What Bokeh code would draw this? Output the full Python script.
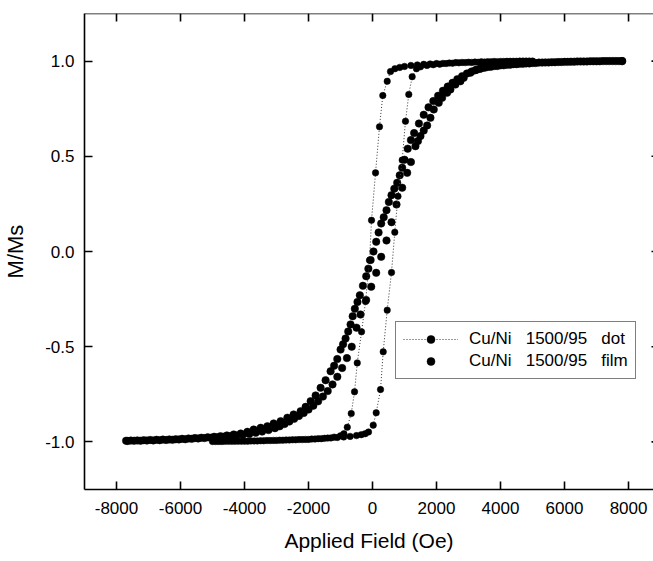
from bokeh.plotting import figure
from bokeh.models import (Range1d, FixedTicker, Legend, LegendItem, Span,
                          NumeralTickFormatter, ColumnDataSource)
from bokeh.embed import file_html
from bokeh.resources import INLINE

# ---------------- data ----------------
# Cu/Ni 1500/95 dot : descending branch (+H -> -H)
dot_desc_h = [5000, 4800, 4600, 4400, 4200, 4000, 3800, 3600, 3400, 3200,
              3000, 2800, 2600, 2400, 2200, 2000, 1800, 1600, 1400, 1200,
              1000, 850, 700, 562, 459, 321, 218, 94, -31, -94,
              -218, -343, -477, -562, -665, -789, -895, -1000, -1200, -1400,
              -1600, -1800, -2000, -2200, -2400, -2600, -2800, -3000, -3200, -3400,
              -3600, -3800, -4000, -4200, -4400, -4600, -4800, -5000]
dot_desc_m = [1.0, 1.0, 1.0, 0.999, 0.999, 0.998, 0.998, 0.997, 0.996, 0.995,
              0.994, 0.993, 0.992, 0.990, 0.988, 0.987, 0.985, 0.983, 0.980, 0.977,
              0.972, 0.967, 0.960, 0.945, 0.894, 0.819, 0.655, 0.413, 0.164, -0.046,
              -0.263, -0.422, -0.585, -0.737, -0.851, -0.923, -0.957, -0.968, -0.975, -0.980,
              -0.983, -0.985, -0.987, -0.988, -0.989, -0.990, -0.991, -0.992, -0.993, -0.994,
              -0.995, -0.995, -0.996, -0.996, -0.997, -0.997, -0.998, -0.998]
# Cu/Ni 1500/95 dot : ascending branch (-H -> +H)
dot_asc_h = [-4900, -4700, -4500, -4300, -4100, -3900, -3700, -3500, -3300, -3100,
             -2900, -2700, -2500, -2300, -2100, -1900, -1700, -1500, -1300, -1100,
             -900, -700, -500, -350, -230, -125, 22, 115, 250, 334,
             459, 593, 696, 796, 927, 1030, 1133, 1239, 1373, 1500,
             1700, 1900, 2100, 2300, 2500, 2700, 2900, 3100, 3300, 3500,
             3700, 3900, 4100, 4300, 4500, 4700, 4900]
dot_asc_m = [-0.998, -0.998, -0.997, -0.997, -0.996, -0.996, -0.995, -0.994, -0.993, -0.992,
             -0.991, -0.990, -0.989, -0.988, -0.987, -0.985, -0.983, -0.981, -0.979, -0.977,
             -0.974, -0.971, -0.967, -0.962, -0.957, -0.948, -0.912, -0.847, -0.725, -0.527,
             -0.308, -0.110, 0.101, 0.290, 0.480, 0.684, 0.825, 0.918, 0.960, 0.970,
             0.977, 0.981, 0.984, 0.987, 0.989, 0.991, 0.992, 0.993, 0.994, 0.995,
             0.996, 0.997, 0.998, 0.999, 0.999, 1.0, 1.0]

# Cu/Ni 1500/95 film : descending branch
film_desc_h = [7800, 7600, 7400, 7200, 7000, 6800, 6600, 6400, 6200, 6000,
               5800, 5600, 5400, 5200, 5000, 4800, 4600, 4400, 4200, 4000,
               3800, 3600, 3400, 3250, 3100, 2950, 2800, 2650, 2500, 2350,
               2200, 2050, 1900, 1750, 1600, 1450, 1300, 1200, 1100, 1000,
               927, 850, 771, 680, 593, 510, 437, 350, 271, 190,
               115, 30, -60, -130, -197, -300, -396, -470, -552, -620,
               -686, -760, -842, -920, -998, -1101, -1200, -1310, -1466, -1622,
               -1778, -1934, -2090, -2246, -2465, -2661, -2870, -3089, -3285, -3494,
               -3713, -3909, -4118, -4337, -4550, -4750, -4950, -5150, -5350, -5550,
               -5750, -5950, -6150, -6350, -6550, -6750, -6950, -7150, -7350, -7550,
               -7700]
film_desc_m = [1.0, 1.0, 1.0, 1.0, 0.999, 0.999, 0.998, 0.998, 0.997, 0.996,
               0.995, 0.994, 0.993, 0.992, 0.990, 0.988, 0.986, 0.984, 0.981, 0.978,
               0.974, 0.969, 0.962, 0.955, 0.946, 0.935, 0.921, 0.905, 0.886, 0.866,
               0.844, 0.818, 0.790, 0.757, 0.718, 0.672, 0.622, 0.585, 0.540, 0.482,
               0.440, 0.400, 0.361, 0.330, 0.296, 0.260, 0.217, 0.180, 0.147, 0.100,
               0.051, 0.000, -0.045, -0.090, -0.130, -0.180, -0.230, -0.265, -0.301, -0.340,
               -0.383, -0.420, -0.457, -0.487, -0.515, -0.565, -0.600, -0.629, -0.676, -0.716,
               -0.756, -0.786, -0.816, -0.839, -0.856, -0.873, -0.891, -0.903, -0.918, -0.926,
               -0.935, -0.947, -0.956, -0.961, -0.966, -0.970, -0.973, -0.976, -0.978, -0.980,
               -0.982, -0.984, -0.986, -0.987, -0.988, -0.989, -0.990, -0.991, -0.992, -0.993,
               -0.994]
# Cu/Ni 1500/95 film : ascending branch
film_asc_h = [-7650, -7450, -7250, -7050, -6850, -6650, -6450, -6250, -6050, -5850,
              -5650, -5450, -5250, -5050, -4850, -4650, -4450, -4250, -4050, -3850,
              -3650, -3450, -3250, -3050, -2900, -2750, -2600, -2450, -2300, -2150,
              -2000, -1850, -1700, -1550, -1400, -1250, -1100, -950, -800, -650,
              -500, -374, -200, -41, 115, 271, 437, 593, 749, 927,
              1083, 1200, 1342, 1420, 1498, 1600, 1707, 1810, 1913, 2069,
              2175, 2331, 2434, 2590, 2746, 2849, 3058, 3214, 3350, 3500,
              3700, 3900, 4100, 4300, 4500, 4700, 4900, 5100, 5300, 5500,
              5700, 5900, 6100, 6300, 6500, 6700, 6900, 7100, 7300, 7500,
              7700, 7800]
film_asc_m = [-0.995, -0.994, -0.994, -0.993, -0.992, -0.991, -0.990, -0.989, -0.987, -0.986,
              -0.984, -0.982, -0.980, -0.978, -0.976, -0.973, -0.970, -0.967, -0.963, -0.958,
              -0.952, -0.946, -0.938, -0.928, -0.918, -0.906, -0.893, -0.879, -0.864, -0.848,
              -0.830, -0.810, -0.787, -0.762, -0.733, -0.698, -0.658, -0.612, -0.560, -0.500,
              -0.400, -0.331, -0.255, -0.185, -0.112, -0.028, 0.058, 0.154, 0.247, 0.335,
              0.413, 0.470, 0.553, 0.580, 0.606, 0.635, 0.662, 0.702, 0.746, 0.781,
              0.807, 0.834, 0.851, 0.877, 0.894, 0.912, 0.939, 0.952, 0.959, 0.965,
              0.970, 0.974, 0.978, 0.981, 0.984, 0.986, 0.988, 0.990, 0.992, 0.993,
              0.994, 0.995, 0.996, 0.997, 0.998, 0.998, 0.999, 0.999, 1.0, 1.0,
              1.0, 1.0]

x_ticks = [-8000, -6000, -4000, -2000, 0, 2000, 4000, 6000, 8000]
y_ticks = [-1.0, -0.5, 0.0, 0.5, 1.0]
series_labels = ["Cu/Ni   1500/95   dot", "Cu/Ni   1500/95   film"]
x_title = "Applied Field (Oe)"
y_title = "M/Ms"

# ---------------- figure ----------------
FONT = "Liberation Sans"
X0, X1 = -9000, 8780
Y0, Y1 = -1.25, 1.25

p = figure(width=653, height=561,
           x_range=Range1d(X0, X1), y_range=Range1d(Y0, Y1),
           output_backend="svg", toolbar_location=None,
           min_border_left=83, min_border_right=0,
           min_border_top=13, min_border_bottom=72)
p.grid.visible = False
p.outline_line_color = None
p.background_fill_color = "white"
p.border_fill_color = "white"


def style_axis(ax):
    ax.major_tick_in = 8
    ax.major_tick_out = 0
    ax.minor_tick_line_color = None
    ax.axis_line_width = 1.6
    ax.major_tick_line_width = 1.6
    ax.axis_line_color = "black"
    ax.major_tick_line_color = "black"
    ax.major_label_text_font = FONT
    ax.major_label_text_color = "black"
    ax.major_label_text_font_size = "17px"
    ax.axis_label_text_font = FONT
    ax.axis_label_text_font_style = "normal"
    ax.axis_label_text_color = "black"


xa = p.xaxis[0]
xa.ticker = FixedTicker(ticks=x_ticks)
xa.formatter = NumeralTickFormatter(format="0")
xa.axis_label = x_title
style_axis(xa)
xa.axis_label_text_font_size = "21px"
xa.major_label_standoff = 12
xa.axis_label_standoff = 12

ya = p.yaxis[0]
ya.ticker = FixedTicker(ticks=y_ticks)
ya.formatter = NumeralTickFormatter(format="0.0")
ya.axis_label = y_title
style_axis(ya)
ya.axis_label_text_font_size = "22px"
ya.major_label_standoff = 10
ya.axis_label_standoff = 14

# top frame line with inward ticks (no labels)
p.add_layout(Span(location=Y1, dimension="width", line_color="black", line_width=1.6))
p.ray(x=x_ticks, y=[Y1] * len(x_ticks), length=8, length_units="screen",
      angle=-90, angle_units="deg", line_color="black", line_width=1.6)
# tips of the right-hand ticks visible at the picture's edge
p.ray(x=[X1] * len(y_ticks), y=y_ticks, length=2, length_units="screen",
      angle=180, angle_units="deg", line_color="black", line_width=1.6)

# ---------------- data glyphs ----------------
dot_src = ColumnDataSource(dict(h=dot_desc_h + dot_asc_h, m=dot_desc_m + dot_asc_m))
film_src = ColumnDataSource(dict(h=film_desc_h + film_asc_h, m=film_desc_m + film_asc_m))

film_r = p.scatter("h", "m", source=film_src, marker="circle", size=7.5,
                   fill_color="black", line_color="black", line_width=0.5)
dot_line = p.line("h", "m", source=dot_src, line_color="#333333",
                  line_width=1, line_dash="1 2")
dot_r = p.scatter("h", "m", source=dot_src, marker="circle", size=6.5,
                  fill_color="black", line_color="black", line_width=0.5)

legend = Legend(items=[LegendItem(label=series_labels[0], renderers=[dot_line, dot_r]),
                       LegendItem(label=series_labels[1], renderers=[film_r])],
                location=(311, 110))
legend.border_line_color = "black"
legend.border_line_width = 1.5
legend.background_fill_color = "white"
legend.background_fill_alpha = 1.0
legend.label_text_font = FONT
legend.label_text_font_size = "17px"
legend.label_text_color = "black"
legend.padding = 7
legend.spacing = 2
legend.margin = 0
legend.label_height = 20
legend.glyph_height = 20
legend.glyph_width = 55
legend.label_standoff = 11
p.add_layout(legend, "center")

open("out.html", "w").write(file_html(p, INLINE))
